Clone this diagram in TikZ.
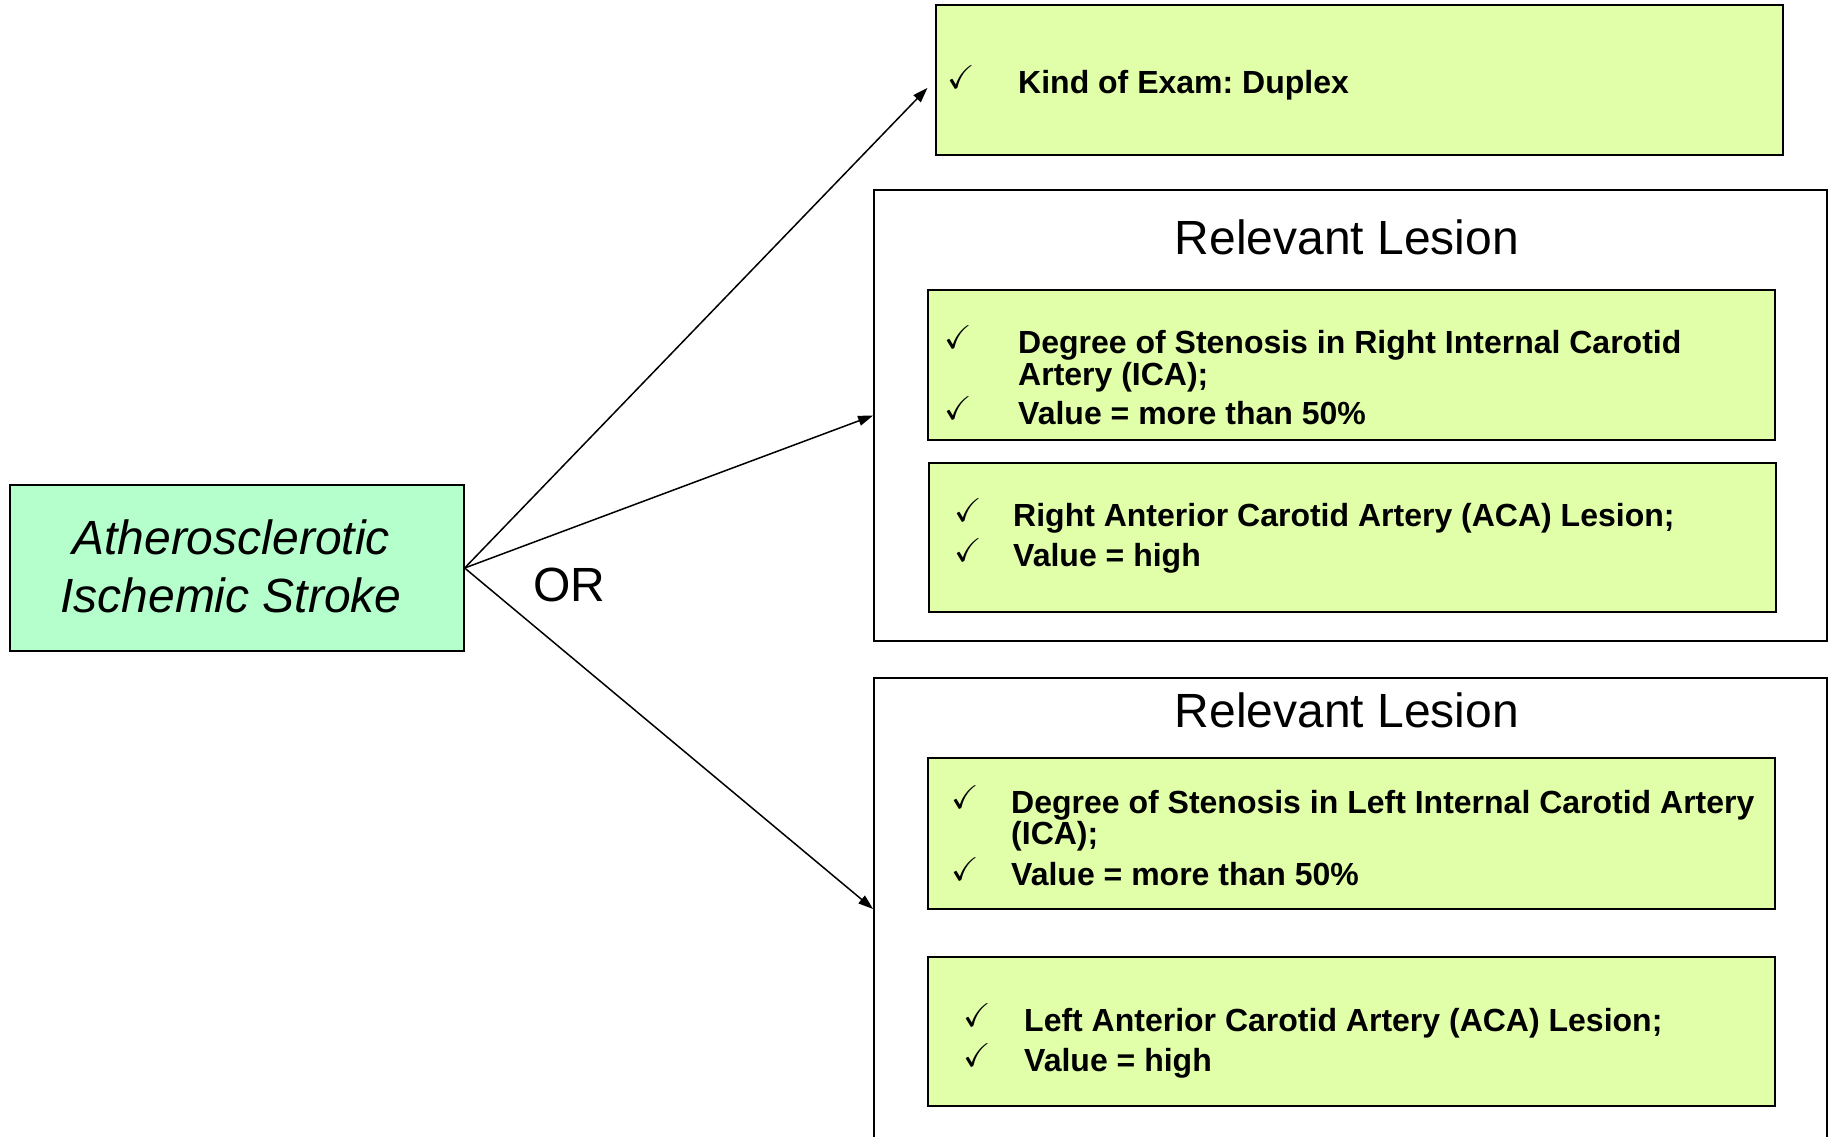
\documentclass[tikz,border=0pt]{standalone}
\usepackage{fontspec}
\setmainfont{Liberation Sans}
\usepackage{amssymb}
\usetikzlibrary{arrows.meta}
\frenchspacing
\definecolor{mint}{HTML}{B4FFCC}
\definecolor{lime}{HTML}{E1FFA9}
\begin{document}
\begin{tikzpicture}[x=1pt,y=-1pt,
  box/.style={draw=black, line width=1.8pt, inner sep=0pt, rectangle},
  mintbox/.style={box, fill=mint},
  limebox/.style={box, fill=lime},
  framebox/.style={box, fill=white},
  item/.style={inner sep=0pt, anchor=base west, font=\fontsize{32}{32}\selectfont\bfseries},
  tick/.style={inner sep=0pt, anchor=base west, yshift=5pt, font=\fontsize{33}{33}\selectfont},
  title/.style={inner sep=0pt, anchor=base, font=\fontsize{48}{48}\selectfont},
  link/.style={line width=1.5pt, -{Triangle[length=15pt,width=10pt]}}
]
\useasboundingbox (0,0) rectangle (1832,1136);

% source concept
\node[mintbox, minimum width=453.5pt, minimum height=166pt] (ais) at (237,568) {};
\node[title, font=\fontsize{48}{48}\selectfont\itshape] (ais1) at (231,554.7) {Atherosclerotic};
\node[title, font=\fontsize{48}{48}\selectfont\itshape] (ais2) at (231,612) {Ischemic Stroke};

% exam box
\node[limebox, minimum width=847pt, minimum height=150pt] (kind) at (1359.5,80) {};
\node[tick] (k0) at (947,93.3) {$\checkmark$};
\node[item] (k1) at (1018,93.3) {Kind of Exam: Duplex};

% right-side lesion group
\node[framebox, minimum width=953pt, minimum height=451pt] (lesA) at (1350.5,415.5) {};
\node[title] (tA) at (1347,254) {Relevant Lesion};
\node[limebox, minimum width=847pt, minimum height=150pt] (b1) at (1351.5,365) {};
\node[tick] (c11) at (944,353.8) {$\checkmark$};
\node[item] (t11) at (1018,353.8) {Degree of Stenosis in Right Internal Carotid};
\node[item] (t12) at (1018,385.4) {Artery (ICA);};
\node[tick] (c12) at (944,424) {$\checkmark$};
\node[item] (t13) at (1018,424) {Value = more than 50\%};
\node[limebox, minimum width=847pt, minimum height=149pt] (b2) at (1352.5,537.5) {};
\node[tick] (c21) at (954,526.8) {$\checkmark$};
\node[item] (t21) at (1013,526.8) {Right Anterior Carotid Artery (ACA) Lesion;};
\node[tick] (c22) at (954,566.5) {$\checkmark$};
\node[item] (t22) at (1013,566.5) {Value = high};

% left-side lesion group
\node[framebox, minimum width=953pt, minimum height=462pt] (lesB) at (1350.5,909) {};
\node[title] (tB) at (1347,727.6) {Relevant Lesion};
\node[limebox, minimum width=847pt, minimum height=151pt] (b3) at (1351.5,833.5) {};
\node[tick] (c31) at (951,813) {$\checkmark$};
\node[item] (t31) at (1011,813) {Degree of Stenosis in Left Internal Carotid Artery};
\node[item] (t32) at (1011,844.5) {(ICA);};
\node[tick] (c32) at (951,885.5) {$\checkmark$};
\node[item] (t33) at (1011,885.5) {Value = more than 50\%};
\node[limebox, minimum width=847pt, minimum height=149pt] (b4) at (1351.5,1031.5) {};
\node[tick] (c41) at (963,1031.5) {$\checkmark$};
\node[item] (t41) at (1024,1031.5) {Left Anterior Carotid Artery (ACA) Lesion;};
\node[tick] (c42) at (963,1071.2) {$\checkmark$};
\node[item] (t42) at (1024,1071.2) {Value = high};

% connectors
\node[title] (or) at (569,601) {OR};
\draw[link, shorten >=11pt] (ais.east) -- (kind.west);
\draw[link] (ais.east) -- (lesA.west);
\draw[link] (ais.east) -- (lesB.west);
\end{tikzpicture}
\end{document}
